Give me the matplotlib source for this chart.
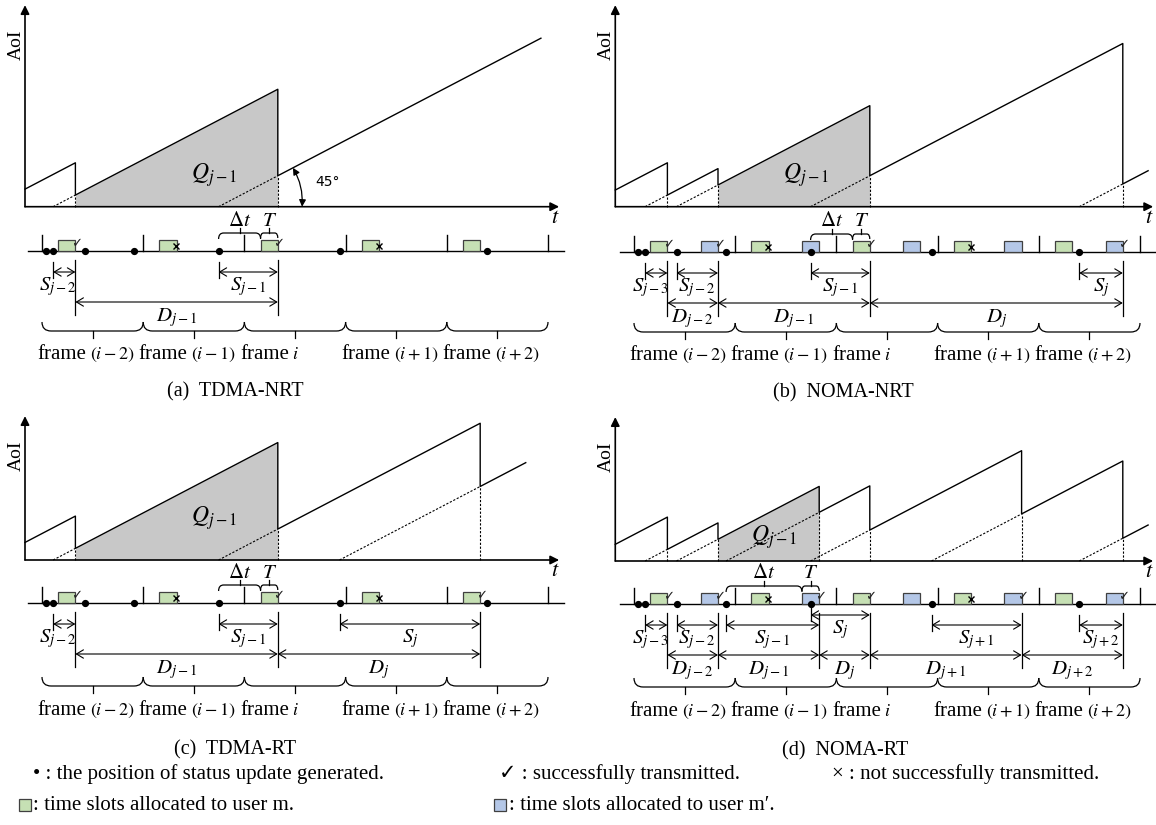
import matplotlib.pyplot as plt
from matplotlib.patches import Rectangle, PathPatch, FancyArrowPatch
from matplotlib.path import Path

plt.rcParams["font.family"] = ["Liberation Serif", "DejaVu Sans"]
plt.rcParams["mathtext.fontset"] = "stix"

# time is counted in frames; frame (i-2) starts at t = 0
frame_edges = [0, 1, 2, 3, 4, 5]
frame_names = [r"$(i-2)$", r"$(i-1)$", r"$i$", r"$(i+1)$", r"$(i+2)$"]
gen_times = [0.04, 0.11, 0.42, 0.91, 1.745, 2.94, 4.40]
green_slots = [0.16, 1.16, 2.16, 3.16, 4.16]
blue_slots = [0.66, 1.66, 2.66, 3.66, 4.66]
slot_len = 0.17
prev_update = -0.5  # generation time of the update held before the plot starts

# slot outcome in each frame: "ok", "fail" or "" (nothing sent)
a_green = ["ok", "fail", "ok", "fail", ""]
a_upd_gen = [0.11, 1.745]
a_upd_rx = [0.33, 2.33]
a_upd_idx = ["j-2", "j-1"]

b_green = ["ok", "fail", "ok", "fail", ""]
b_blue = ["ok", "", "", "", "ok"]
b_upd_gen = [0.11, 0.42, 1.745, 4.40]
b_upd_rx = [0.33, 0.83, 2.33, 4.83]
b_upd_idx = ["j-3", "j-2", "j-1", "j"]

c_green = ["ok", "fail", "ok", "fail", "ok"]
c_upd_gen = [0.11, 1.745, 2.94]
c_upd_rx = [0.33, 2.33, 4.33]
c_upd_idx = ["j-2", "j-1", "j"]

d_green = ["ok", "fail", "ok", "fail", ""]
d_blue = ["ok", "ok", "", "ok", "ok"]
d_upd_gen = [0.11, 0.42, 0.91, 1.745, 2.94, 4.40]
d_upd_rx = [0.33, 0.83, 1.83, 2.33, 3.83, 4.83]
d_upd_idx = ["j-3", "j-2", "j-1", "j", "j+1", "j+2"]

W, H = 1156, 825
F = 101.2  # pixels per frame
U = 52.9   # pixels per frame of AoI
GREEN, BLUE, SHADE = "#c6e0b4", "#b4c7e7", "#c8c8c8"
DOT = (0, (2.0, 1.5))

fig = plt.figure(figsize=(W / 100, H / 100), dpi=100)

TOP_ROWS = dict(b_end=-71, b_flat=-80, b_tip=-87, lab=-108, cap=-141)
BOT_ROWS = dict(b_end=-74, b_flat=-83, b_tip=-90, lab=-112, cap=-147)

panels = [
    dict(name="(a)  TDMA-NRT", left=0, right=580, x0=42, base=206.7, line=251,
         green=a_green, blue=None, gen=a_upd_gen, rx=a_upd_rx, idx=a_upd_idx,
         axis_t=-0.168, t_end=5.11, curve_end=4.93, aoi_top=3.81,
         q_xy=(1.70, 0.60), cap_x=235, rows=TOP_ROWS, angle=True),
    dict(name="(b)  NOMA-NRT", left=590, right=1156, x0=634, base=206.7, line=252,
         green=b_green, blue=b_blue, gen=b_upd_gen, rx=b_upd_rx, idx=b_upd_idx,
         axis_t=-0.185, t_end=5.13, curve_end=5.08, aoi_top=3.81,
         q_xy=(1.70, 0.60), cap_x=843, rows=TOP_ROWS, angle=False),
    dict(name="(c)  TDMA-RT", left=0, right=580, x0=42, base=560, line=603,
         green=c_green, blue=None, gen=c_upd_gen, rx=c_upd_rx, idx=c_upd_idx,
         axis_t=-0.168, t_end=5.11, curve_end=4.78, aoi_top=2.72,
         q_xy=(1.70, 0.79), cap_x=235, rows=BOT_ROWS, angle=False),
    dict(name="(d)  NOMA-RT", left=590, right=1156, x0=634, base=561, line=604,
         green=d_green, blue=d_blue, gen=d_upd_gen, rx=d_upd_rx, idx=d_upd_idx,
         axis_t=-0.185, t_end=5.13, curve_end=5.08, aoi_top=2.72,
         q_xy=(1.38, 0.46), cap_x=845, rows=BOT_ROWS, angle=False),
]


def px_axes(left, right, top, bottom):
    ax = fig.add_axes([left / W, 1 - bottom / H, (right - left) / W, (bottom - top) / H])
    ax.axis("off")
    return ax


def brace(ax, x1, x2, y_end, y_flat, y_tip, rx, lw=0.9):
    verts = [(x1, y_end), (x1, y_flat), (x1 + rx, y_flat), (x2 - rx, y_flat),
             (x2, y_flat), (x2, y_end)]
    codes = [Path.MOVETO, Path.CURVE3, Path.CURVE3, Path.LINETO, Path.CURVE3, Path.CURVE3]
    ax.add_patch(PathPatch(Path(verts, codes), fill=False, lw=lw, ec="black", clip_on=False))
    xm = (x1 + x2) / 2
    ax.plot([xm, xm], [y_flat, y_tip], color="black", lw=lw, clip_on=False)


def slot(ax, start, color, mark):
    ax.add_patch(Rectangle((start, 0), slot_len, 11, fc=color, ec="#404040", lw=0.9,
                           zorder=3, clip_on=False))
    end = start + slot_len
    if mark == "ok":
        ax.text(end + 0.012, 7.5, "\u2713", fontsize=9.5, ha="center", va="center",
                family="DejaVu Sans", color="#222222", zorder=4)
    elif mark == "fail":
        ax.plot(end - 0.003, 5, marker="x", ms=4, mew=1.0, color="black", zorder=4)


def dim_arrow(ax, x1, x2, y):
    ax.annotate("", xy=(x2, y), xytext=(x1, y),
                arrowprops=dict(arrowstyle="<->,head_length=0.5,head_width=0.3",
                                lw=0.8, color="black", shrinkA=0, shrinkB=0,
                                mutation_scale=10))


def axis_arrow(ax, start, end):
    ax.annotate("", xy=end, xytext=start,
                arrowprops=dict(arrowstyle="-|>", lw=1.2, color="black",
                                shrinkA=0, shrinkB=0, mutation_scale=13))


for p in panels:
    x0 = p["x0"]
    xlim = ((p["left"] - x0) / F, (p["right"] - x0) / F)
    gen, rx, idx = p["gen"], p["rx"], p["idx"]
    held = [prev_update] + gen

    # ---- AoI sawtooth ----
    ax = px_axes(p["left"], p["right"], p["base"] - 210, p["base"] + 20)
    ax.set_xlim(*xlim)
    ax.set_ylim(-20 / U, 210 / U)

    k = idx.index("j-1")
    ax.fill_between([rx[k - 1], rx[k]], [rx[k - 1] - gen[k - 1], rx[k] - gen[k - 1]], 0,
                    color=SHADE, lw=0, zorder=1)

    xs, ys = [p["axis_t"]], [p["axis_t"] - prev_update]
    for n, d in enumerate(rx):
        xs += [d, d]
        ys += [d - held[n], d - held[n + 1]]
    xs.append(p["curve_end"])
    ys.append(p["curve_end"] - held[-1])
    ax.plot(xs, ys, color="black", lw=1.0, zorder=3)

    for g, d in zip(gen, rx):
        ax.plot([g, d], [0, d - g], color="black", lw=0.8, ls=DOT, zorder=2)
        ax.plot([d, d], [0, d - g], color="black", lw=0.8, ls=DOT, zorder=2)

    axis_arrow(ax, (p["axis_t"], 0), (p["t_end"], 0))
    axis_arrow(ax, (p["axis_t"], 0), (p["axis_t"], p["aoi_top"]))
    ax.text(p["axis_t"] - 0.09, p["aoi_top"] - 0.75, "AoI", rotation=90, fontsize=14,
            ha="center", va="center")
    ax.text(p["t_end"] - 0.04, -0.22, r"$t$", fontsize=16, ha="center", va="center")
    ax.text(*p["q_xy"], r"$Q_{j-1}$", fontsize=17, ha="center", va="center", zorder=4)

    if p["angle"]:
        g = gen[k]
        ax.add_patch(FancyArrowPatch((2.48, 2.48 - g), (2.57, 0), arrowstyle="<|-|>",
                                     connectionstyle="arc3,rad=-0.15", mutation_scale=10,
                                     lw=0.9, color="black", shrinkA=0, shrinkB=0,
                                     zorder=4))
        ax.text(2.82, 0.47, "45\u00b0", fontsize=10, family="DejaVu Sans",
                ha="center", va="center")

    # ---- slot timeline ----
    tl = px_axes(p["left"], p["right"], p["line"] - 40, p["line"] + 160)
    tl.set_xlim(*xlim)
    tl.set_ylim(-160, 40)
    tl.plot([-0.14, min(5.16, xlim[1])], [0, 0], color="black", lw=1.0)
    for e in frame_edges:
        tl.plot([e, e], [0, 16], color="black", lw=1.0)
    for s, m in zip(green_slots, p["green"]):
        slot(tl, s, GREEN, m)
    if p["blue"] is not None:
        for s, m in zip(blue_slots, p["blue"]):
            slot(tl, s, BLUE, m)
    tl.plot(gen_times, [0] * len(gen_times), "o", ms=4.2, color="black", zorder=5)

    # waiting time and transmission time of update j-1
    brace(tl, gen[k], rx[k] - slot_len, 12, 18, 23, 0.05)
    brace(tl, rx[k] - slot_len, rx[k], 13, 18, 23, 0.03)
    tl.text((gen[k] + rx[k] - slot_len) / 2, 30, r"$\Delta t$", fontsize=15,
            ha="center", va="center")
    tl.text(rx[k] - slot_len / 2, 30, r"$T$", fontsize=15, ha="center", va="center")

    # system times S and inter-delivery times D
    for n, (g, d, j) in enumerate(zip(gen, rx, idx)):
        row = -21 if n == 0 or g >= rx[n - 1] else -11
        tl.plot([g, g], [row + 10, row - 6], color="black", lw=0.9)
        tl.plot([d, d], [-9, -64], color="black", lw=0.9)
        dim_arrow(tl, g, d, row)
        # short arrows get their label pushed left of the span
        sx = (g + d) / 2 - (0.06 if d - g < 0.3 else 0)
        tl.text(sx, row - 15, rf"$S_{{{j}}}$", fontsize=15,
                ha="center", va="center")
        if n > 0:
            dim_arrow(tl, rx[n - 1], d, -51)
            tl.text((rx[n - 1] + d) / 2, -67, rf"$D_{{{j}}}$", fontsize=15,
                    ha="center", va="center")

    r = p["rows"]
    for e1, e2, nm in zip(frame_edges[:-1], frame_edges[1:], frame_names):
        brace(tl, e1, e2, r["b_end"], r["b_flat"], r["b_tip"], 0.09)
        c = (e1 + e2) / 2
        tl.text(c - 0.06, r["lab"], "frame", fontsize=15, ha="right", va="baseline")
        tl.text(c - 0.025, r["lab"], nm, fontsize=13, ha="left", va="baseline")
    tl.text((p["cap_x"] - x0) / F, r["cap"], p["name"], fontsize=14.5,
            ha="center", va="center")


# ---- legend ----
def ftext(x, y, s, **kw):
    fig.text(x / W, 1 - y / H, s, fontsize=15, va="center", ha="left", **kw)


ftext(33, 774, "\u2022 : the position of status update generated.")
ftext(499, 774, "\u2713 : successfully transmitted.")
ftext(832, 774, "\u00d7 : not successfully transmitted.")
fig.patches.append(Rectangle((19 / W, 1 - 811 / H), 12 / W, 12 / H, fc=GREEN, ec="#404040",
                             lw=0.9, transform=fig.transFigure))
ftext(33, 805, ": time slots allocated to user m.")
fig.patches.append(Rectangle((494 / W, 1 - 811 / H), 12 / W, 12 / H, fc=BLUE, ec="#404040",
                             lw=0.9, transform=fig.transFigure))
ftext(509, 805, ": time slots allocated to user m\u2032.")

fig.savefig("out.png", dpi=100)
